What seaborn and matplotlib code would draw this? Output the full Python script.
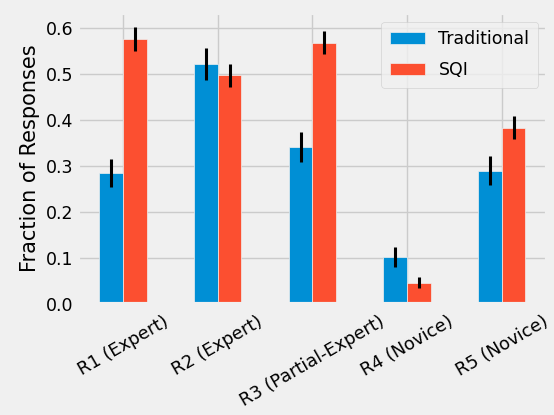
import matplotlib
matplotlib.use("Agg")
import matplotlib.pyplot as plt
import numpy as np
import pandas as pd
import seaborn as sns

# values
raters = ["R1 (Expert)", "R2 (Expert)", "R3 (Partial-Expert)", "R4 (Novice)", "R5 (Novice)"]
traditional = [0.285, 0.522, 0.342, 0.103, 0.290]
sqi = [0.577, 0.498, 0.568, 0.047, 0.383]
traditional_err = [0.031, 0.035, 0.033, 0.022, 0.032]
sqi_err = [0.026, 0.025, 0.025, 0.012, 0.025]

methods = ["Traditional", "SQI"]
colors = ["#008fd5", "#fc4f30"]

df = pd.DataFrame({
    "rater": raters * 2,
    "method": ["Traditional"] * len(raters) + ["SQI"] * len(raters),
    "fraction": traditional + sqi,
})
errors = {"Traditional": traditional_err, "SQI": sqi_err}

plt.style.use("fivethirtyeight")
fig, ax = plt.subplots(figsize=(5.54, 4.15), dpi=100)
fig.subplots_adjust(left=0.141, right=0.987, top=0.969, bottom=0.267)

sns.barplot(data=df, x="rater", y="fraction", hue="method", hue_order=methods,
            palette=colors, saturation=1, width=0.5, errorbar=None,
            edgecolor="#f0f0f0", linewidth=0.5, ax=ax)

# error bars at the centre of each drawn bar
for method, container in zip(methods, ax.containers):
    xs = [p.get_x() + p.get_width() / 2 for p in container.patches]
    ys = [p.get_height() for p in container.patches]
    ax.errorbar(xs, ys, yerr=errors[method], fmt="none", ecolor="black",
                elinewidth=2.2, capsize=0)

ax.grid(True, axis="both", color="#cbcbcb", linewidth=1.0)
ax.set_axisbelow(True)
ax.set_xlabel("")
ax.set_ylabel("Fraction of Responses", fontsize=15)
ax.set_yticks(np.arange(0, 0.61, 0.1))
ax.tick_params(axis="y", labelsize=12.5)
ax.tick_params(axis="x", labelsize=12.8, pad=6)
plt.setp(ax.get_xticklabels(), rotation=30, ha="center")
ax.legend(loc="upper right", fontsize=12.5, labelspacing=0.75, borderpad=0.5)

fig.savefig("out.png", dpi=100, facecolor="#f0f0f0")
